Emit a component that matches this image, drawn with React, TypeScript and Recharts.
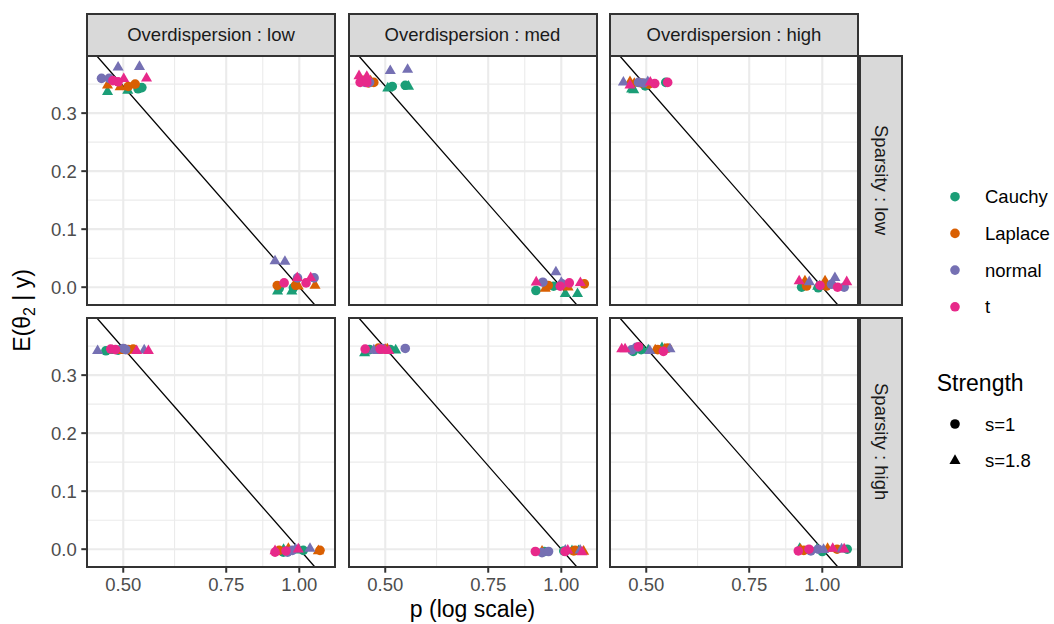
import React from 'react';
import { ScatterChart, Scatter, XAxis, YAxis, CartesianGrid, ReferenceLine } from 'recharts';

type Pt = { prior: string; s: string; p: number; e: number };
const pt = (prior: string, s: string, p: number, e: number): Pt => ({ prior, s, p, e });

// ---------- categories / scales ----------
const priors = ['Cauchy', 'Laplace', 'normal', 't'];
const priorColors = ['#1B9E77', '#D95F02', '#7570B3', '#E7298A'];
const strengths = ['1', '1.8'];
const strengthLabels = ['s=1', 's=1.8'];
const overdispersionLevels = ['low', 'med', 'high'];
const sparsityLevels = ['low', 'high'];
const xTicks = [0.5, 0.75, 1.0];
const xMinor = [0.612, 0.866];
const yTicks = [0, 0.1, 0.2, 0.3];
const yMinor = [0.05, 0.15, 0.25, 0.35];
const xDomain: [number, number] = [0.4335, 1.151];
const yDomain: [number, number] = [-0.0307, 0.3985];
const refSlope = -0.5; // reference line: E = -0.5 * ln(p)

// ---------- data: Overdispersion x Sparsity ----------
const odLowSpLow: Pt[] = [
  pt('normal', '1.8', 0.490, 0.379), pt('normal', '1.8', 0.533, 0.380),
  pt('normal', '1', 0.459, 0.360), pt('normal', '1', 0.473, 0.360),
  pt('t', '1', 0.490, 0.354), pt('t', '1', 0.480, 0.356),
  pt('t', '1.8', 0.501, 0.359), pt('t', '1.8', 0.548, 0.360),
  pt('Laplace', '1.8', 0.470, 0.348), pt('Laplace', '1.8', 0.494, 0.345),
  pt('Laplace', '1', 0.510, 0.346), pt('Laplace', '1', 0.524, 0.350),
  pt('Cauchy', '1.8', 0.470, 0.337), pt('Cauchy', '1.8', 0.509, 0.339),
  pt('Cauchy', '1', 0.538, 0.344), pt('Cauchy', '1', 0.530, 0.342),
  pt('normal', '1.8', 0.909, 0.045), pt('normal', '1.8', 0.945, 0.044),
  pt('normal', '1', 0.993, 0.016), pt('normal', '1', 1.060, 0.016),
  pt('t', '1', 0.942, 0.0074), pt('t', '1', 1.027, 0.0074),
  pt('t', '1.8', 0.992, 0.016), pt('t', '1.8', 1.046, 0.016),
  pt('Laplace', '1', 0.917, 0.003), pt('Laplace', '1', 0.986, 0.0035),
  pt('Laplace', '1.8', 1.064, 0.003), pt('Laplace', '1.8', 0.996, 0.0017),
  pt('Cauchy', '1.8', 0.918, -0.0069), pt('Cauchy', '1.8', 0.971, -0.007),
  pt('Cauchy', '1', 0.977, -0.001), pt('Cauchy', '1', 0.924, -0.002),
];

const odMedSpLow: Pt[] = [
  pt('t', '1.8', 0.451, 0.364), pt('t', '1.8', 0.465, 0.363),
  pt('t', '1', 0.453, 0.353), pt('t', '1', 0.465, 0.353),
  pt('Laplace', '1', 0.478, 0.353), pt('Laplace', '1', 0.468, 0.352),
  pt('Laplace', '1.8', 0.458, 0.355), pt('Laplace', '1.8', 0.472, 0.355),
  pt('normal', '1', 0.462, 0.353), pt('normal', '1', 0.470, 0.353),
  pt('normal', '1.8', 0.510, 0.373), pt('normal', '1.8', 0.546, 0.375),
  pt('Cauchy', '1', 0.514, 0.346), pt('Cauchy', '1', 0.541, 0.348),
  pt('Cauchy', '1.8', 0.505, 0.343), pt('Cauchy', '1.8', 0.548, 0.346),
  pt('t', '1.8', 0.906, 0.0086), pt('t', '1.8', 1.078, 0.0074),
  pt('normal', '1', 0.930, 0.0086), pt('normal', '1', 1.003, 0.0057),
  pt('Cauchy', '1', 0.905, -0.0057), pt('Cauchy', '1', 0.970, 0.0017),
  pt('Laplace', '1.8', 0.939, -0.0022), pt('Laplace', '1.8', 1.027, 0.0),
  pt('normal', '1.8', 0.979, 0.026), pt('normal', '1.8', 1.000, 0.008),
  pt('t', '1', 0.996, 0.0017), pt('t', '1', 1.032, 0.0074),
  pt('Cauchy', '1.8', 1.016, -0.0116), pt('Cauchy', '1.8', 1.066, -0.0116),
  pt('Laplace', '1', 1.095, 0.0057), pt('Laplace', '1', 0.950, 0.003),
];

const odHighSpLow: Pt[] = [
  pt('normal', '1.8', 0.457, 0.353), pt('normal', '1.8', 0.503, 0.354),
  pt('Laplace', '1.8', 0.469, 0.354), pt('Laplace', '1.8', 0.477, 0.351),
  pt('t', '1.8', 0.469, 0.348), pt('t', '1.8', 0.508, 0.353),
  pt('Cauchy', '1.8', 0.472, 0.341), pt('Cauchy', '1.8', 0.476, 0.340),
  pt('normal', '1', 0.485, 0.353), pt('normal', '1', 0.495, 0.352),
  pt('Cauchy', '1', 0.498, 0.347), pt('Cauchy', '1', 0.540, 0.353),
  pt('Laplace', '1', 0.490, 0.352), pt('Laplace', '1', 0.505, 0.350),
  pt('t', '1', 0.517, 0.351), pt('t', '1', 0.544, 0.353),
  pt('t', '1.8', 0.913, 0.0104), pt('t', '1.8', 1.101, 0.009),
  pt('Laplace', '1.8', 0.934, 0.0104), pt('Laplace', '1.8', 1.011, 0.0104),
  pt('Cauchy', '1', 0.922, 0.0), pt('Cauchy', '1', 0.984, -0.001),
  pt('normal', '1.8', 0.950, 0.009), pt('normal', '1.8', 1.051, 0.016),
  pt('Cauchy', '1.8', 0.990, 0.002), pt('Cauchy', '1.8', 0.982, 0.001),
  pt('t', '1', 0.991, 0.003), pt('t', '1', 1.062, 0.0),
  pt('normal', '1', 1.090, 0.0), pt('normal', '1', 1.037, 0.005),
  pt('Laplace', '1', 1.017, 0.002), pt('Laplace', '1', 0.940, 0.002),
];

const odLowSpHigh: Pt[] = [
  pt('normal', '1.8', 0.452, 0.342), pt('normal', '1.8', 0.543, 0.343),
  pt('Cauchy', '1', 0.467, 0.342), pt('Cauchy', '1', 0.490, 0.343),
  pt('t', '1', 0.476, 0.345), pt('t', '1', 0.485, 0.344),
  pt('Cauchy', '1.8', 0.492, 0.342), pt('Cauchy', '1.8', 0.480, 0.342),
  pt('normal', '1', 0.500, 0.346), pt('normal', '1', 0.505, 0.344),
  pt('Laplace', '1.8', 0.500, 0.342), pt('Laplace', '1.8', 0.505, 0.343),
  pt('Laplace', '1', 0.520, 0.345), pt('Laplace', '1', 0.510, 0.344),
  pt('t', '1.8', 0.527, 0.342), pt('t', '1.8', 0.552, 0.342),
  pt('t', '1.8', 0.909, -0.003), pt('t', '1.8', 0.996, 0.0),
  pt('Laplace', '1', 0.924, -0.002), pt('Laplace', '1', 1.085, -0.002),
  pt('Cauchy', '1', 0.939, -0.005), pt('Cauchy', '1', 1.016, -0.002),
  pt('t', '1', 0.949, -0.003), pt('t', '1', 0.909, -0.005),
  pt('Laplace', '1.8', 0.958, 0.001), pt('Laplace', '1.8', 1.078, -0.003),
  pt('normal', '1', 0.973, -0.002), pt('normal', '1', 0.955, -0.005),
  pt('normal', '1.8', 1.043, 0.001), pt('normal', '1.8', 0.985, 0.0),
  pt('Cauchy', '1.8', 1.000, -0.002), pt('Cauchy', '1.8', 0.940, -0.001),
];

const odMedSpHigh: Pt[] = [
  pt('Cauchy', '1.8', 0.461, 0.338), pt('Cauchy', '1.8', 0.521, 0.343),
  pt('t', '1', 0.462, 0.345), pt('t', '1', 0.490, 0.345),
  pt('normal', '1.8', 0.478, 0.343), pt('normal', '1.8', 0.485, 0.342),
  pt('Laplace', '1', 0.487, 0.3466), pt('Laplace', '1', 0.495, 0.345),
  pt('normal', '1', 0.494, 0.346), pt('normal', '1', 0.541, 0.346),
  pt('Cauchy', '1', 0.470, 0.344), pt('Cauchy', '1', 0.510, 0.344),
  pt('t', '1.8', 0.499, 0.343), pt('t', '1.8', 0.507, 0.342),
  pt('Laplace', '1.8', 0.504, 0.345), pt('Laplace', '1.8', 0.500, 0.344),
  pt('t', '1', 0.903, -0.004), pt('t', '1', 1.015, -0.004),
  pt('Laplace', '1.8', 0.927, -0.004), pt('Laplace', '1.8', 1.092, -0.004),
  pt('normal', '1', 0.927, -0.006), pt('normal', '1', 0.951, -0.004),
  pt('Cauchy', '1', 0.935, -0.004), pt('Cauchy', '1', 1.010, -0.003),
  pt('normal', '1.8', 1.016, -0.002), pt('normal', '1.8', 1.077, -0.002),
  pt('t', '1.8', 1.026, -0.002), pt('t', '1.8', 1.085, -0.005),
  pt('Cauchy', '1.8', 1.043, -0.003), pt('Cauchy', '1.8', 1.070, -0.003),
  pt('Laplace', '1', 1.056, -0.002), pt('Laplace', '1', 1.050, -0.003),
];

const odHighSpHigh: Pt[] = [
  pt('t', '1.8', 0.454, 0.345), pt('t', '1.8', 0.460, 0.345),
  pt('normal', '1', 0.472, 0.3436), pt('normal', '1', 0.481, 0.348),
  pt('Cauchy', '1', 0.475, 0.341), pt('Cauchy', '1', 0.490, 0.344),
  pt('t', '1', 0.485, 0.349), pt('t', '1', 0.535, 0.341),
  pt('Cauchy', '1.8', 0.504, 0.343), pt('Cauchy', '1.8', 0.532, 0.347),
  pt('normal', '1.8', 0.507, 0.342), pt('normal', '1.8', 0.549, 0.345),
  pt('Laplace', '1.8', 0.518, 0.343), pt('Laplace', '1.8', 0.538, 0.345),
  pt('Laplace', '1', 0.523, 0.344), pt('Laplace', '1', 0.544, 0.3466),
  pt('t', '1', 0.910, -0.003), pt('t', '1', 0.949, 0.0),
  pt('Laplace', '1.8', 0.918, -0.001), pt('Laplace', '1.8', 1.021, 0.001),
  pt('normal', '1', 0.956, -0.003), pt('normal', '1', 0.984, 0.0),
  pt('Cauchy', '1', 1.000, -0.004), pt('Cauchy', '1', 1.103, 0.0),
  pt('t', '1.8', 1.042, 0.001), pt('t', '1.8', 1.090, 0.0),
  pt('normal', '1.8', 1.079, 0.0), pt('normal', '1.8', 1.005, -0.001),
  pt('Laplace', '1', 0.930, -0.002), pt('Laplace', '1', 1.060, 0.0),
  pt('Cauchy', '1.8', 0.915, 0.001), pt('Cauchy', '1.8', 0.980, 0.0),
];

const panelData: Pt[][][] = [
  [odLowSpLow, odMedSpLow, odHighSpLow],
  [odLowSpHigh, odMedSpHigh, odHighSpHigh],
];

// ---------- layout / style ----------
const FONT = '"Liberation Sans", Arial, Helvetica, sans-serif';
const colLeft = [87, 348.5, 610];
const rowTop = [55.5, 317.5];
const PW = 248;
const PH = 249;
const YW = 60;
const XH = 45;
const CIRCLE_R = 4.8;
const TRI_R = 6.4;

function Marker(props: any) {
  const { cx, cy, color, kind } = props;
  if (cx == null || cy == null) return null;
  if (kind === '1') return <circle cx={cx} cy={cy} r={CIRCLE_R} fill={color} />;
  const R = TRI_R;
  const pts = `${cx},${cy - R} ${cx + R * 0.866},${cy + R / 2} ${cx - R * 0.866},${cy + R / 2}`;
  return <polygon points={pts} fill={color} />;
}

function Panel({ row, col }: { row: number; col: number }) {
  const data = panelData[row][col];
  const isLeft = col === 0;
  const isBottom = row === 1;
  const w = PW + (isLeft ? YW : 0);
  const h = PH + (isBottom ? XH : 0);
  const segA = { x: Math.exp(yDomain[1] / refSlope), y: yDomain[1] };
  const segB = { x: Math.exp(yDomain[0] / refSlope), y: yDomain[0] };
  const tickStyle = { fill: '#4D4D4D', fontSize: 18.5, fontFamily: FONT };
  return (
    <div style={{ position: 'absolute', left: colLeft[col] - (isLeft ? YW : 0), top: rowTop[row] }}>
      <ScatterChart width={w} height={h} margin={{ top: 0, right: 0, bottom: 0, left: 0 }}>
        <CartesianGrid
          horizontalValues={yMinor}
          verticalValues={xMinor}
          stroke="#EBEBEB"
          strokeWidth={1.1}
          fill="none"
        />
        <CartesianGrid
          horizontalValues={yTicks}
          verticalValues={xTicks}
          stroke="#EBEBEB"
          strokeWidth={2.1}
          fill="none"
        />
        <XAxis
          type="number"
          dataKey="p"
          scale="log"
          domain={xDomain}
          allowDataOverflow
          ticks={xTicks}
          hide={!isBottom}
          height={XH}
          axisLine={false}
          tickLine={{ stroke: '#333333', strokeWidth: 2 }}
          tickSize={5.7}
          tickMargin={5.5}
          tick={tickStyle}
          tickFormatter={(v: number) => v.toFixed(2)}
          interval={0}
        />
        <YAxis
          type="number"
          dataKey="e"
          domain={yDomain}
          allowDataOverflow
          ticks={yTicks}
          hide={!isLeft}
          width={YW}
          axisLine={false}
          tickLine={{ stroke: '#333333', strokeWidth: 2 }}
          tickSize={5.7}
          tickMargin={4.5}
          tick={tickStyle}
          tickFormatter={(v: number) => v.toFixed(1)}
          interval={0}
        />
        {priors.map((pr, i) =>
          strengths.map((s) => (
            <Scatter
              key={pr + s}
              name={pr + ' ' + s}
              data={data.filter((d) => d.prior === pr && d.s === s)}
              fill={priorColors[i]}
              isAnimationActive={false}
              shape={(p: any) => <Marker {...p} color={priorColors[i]} kind={s} />}
            />
          ))
        )}
        <ReferenceLine segment={[segA, segB]} stroke="#000000" strokeWidth={1.3} ifOverflow="hidden" />
      </ScatterChart>
    </div>
  );
}

export default function App() {
  const legendY0 = 196.7;
  const legendStep = 36.7;
  return (
    <div style={{ position: 'absolute', left: 0, top: 0, width: 1054, height: 624, background: '#FFFFFF', overflow: 'hidden', fontFamily: FONT }}>
      {sparsityLevels.map((_, r) => overdispersionLevels.map((__, c) => <Panel key={`${r}-${c}`} row={r} col={c} />))}
      {/* panel borders */}
      {sparsityLevels.map((_, r) =>
        overdispersionLevels.map((__, c) => (
          <div
            key={`b${r}-${c}`}
            style={{
              position: 'absolute', left: colLeft[c] - 1, top: rowTop[r] - 1, width: PW + 2, height: PH + 2,
              border: '2px solid #333333', boxSizing: 'border-box', pointerEvents: 'none',
            }}
          />
        ))
      )}
      {/* top strips */}
      {overdispersionLevels.map((lev, c) => (
        <div
          key={`st${c}`}
          style={{
            position: 'absolute', left: colLeft[c] - 1, top: 12.5, width: PW + 2, height: 44,
            background: '#D9D9D9', border: '2px solid #333333', boxSizing: 'border-box',
            display: 'flex', alignItems: 'center', justifyContent: 'center',
            fontSize: 18.5, color: '#1A1A1A', whiteSpace: 'nowrap',
          }}
        >
          {`Overdispersion : ${lev}`}
        </div>
      ))}
      {/* right strips */}
      {sparsityLevels.map((lev, r) => (
        <div
          key={`sr${r}`}
          style={{
            position: 'absolute', left: 859, top: rowTop[r] - 1, width: 43.5, height: PH + 2,
            background: '#D9D9D9', border: '2px solid #333333', boxSizing: 'border-box',
            display: 'flex', alignItems: 'center', justifyContent: 'center',
          }}
        >
          <span style={{ writingMode: 'vertical-rl', fontSize: 18.5, color: '#1A1A1A', whiteSpace: 'nowrap' }}>
            {`Sparsity : ${lev}`}
          </span>
        </div>
      ))}
      {/* titles and legends */}
      <svg width={1054} height={624} style={{ position: 'absolute', left: 0, top: 0, pointerEvents: 'none' }}>
        <text x={472.5} y={617} textAnchor="middle" fontSize={23} fill="#000000" fontFamily={FONT}>
          p (log scale)
        </text>
        <text transform="translate(30,310.5) rotate(-90)" textAnchor="middle" fontSize={23} fill="#000000" fontFamily={FONT}>
          E(θ<tspan dy={5} fontSize={16}>2</tspan>
          <tspan dy={-5}> | y)</tspan>
        </text>
        {priors.map((pr, i) => (
          <g key={pr}>
            <circle cx={955} cy={legendY0 + i * legendStep} r={CIRCLE_R} fill={priorColors[i]} />
            <text x={985} y={legendY0 + i * legendStep} dominantBaseline="central" fontSize={18.5} fill="#000000" fontFamily={FONT}>
              {pr}
            </text>
          </g>
        ))}
        <text x={936.7} y={390.7} fontSize={23} fill="#000000" fontFamily={FONT}>Strength</text>
        {strengthLabels.map((lab, i) => {
          const cy = 424 + i * 36.7;
          return (
            <g key={lab}>
              <Marker cx={955} cy={cy} color="#000000" kind={strengths[i]} />
              <text x={985} y={cy} dominantBaseline="central" fontSize={18.5} fill="#000000" fontFamily={FONT}>
                {lab}
              </text>
            </g>
          );
        })}
      </svg>
    </div>
  );
}
